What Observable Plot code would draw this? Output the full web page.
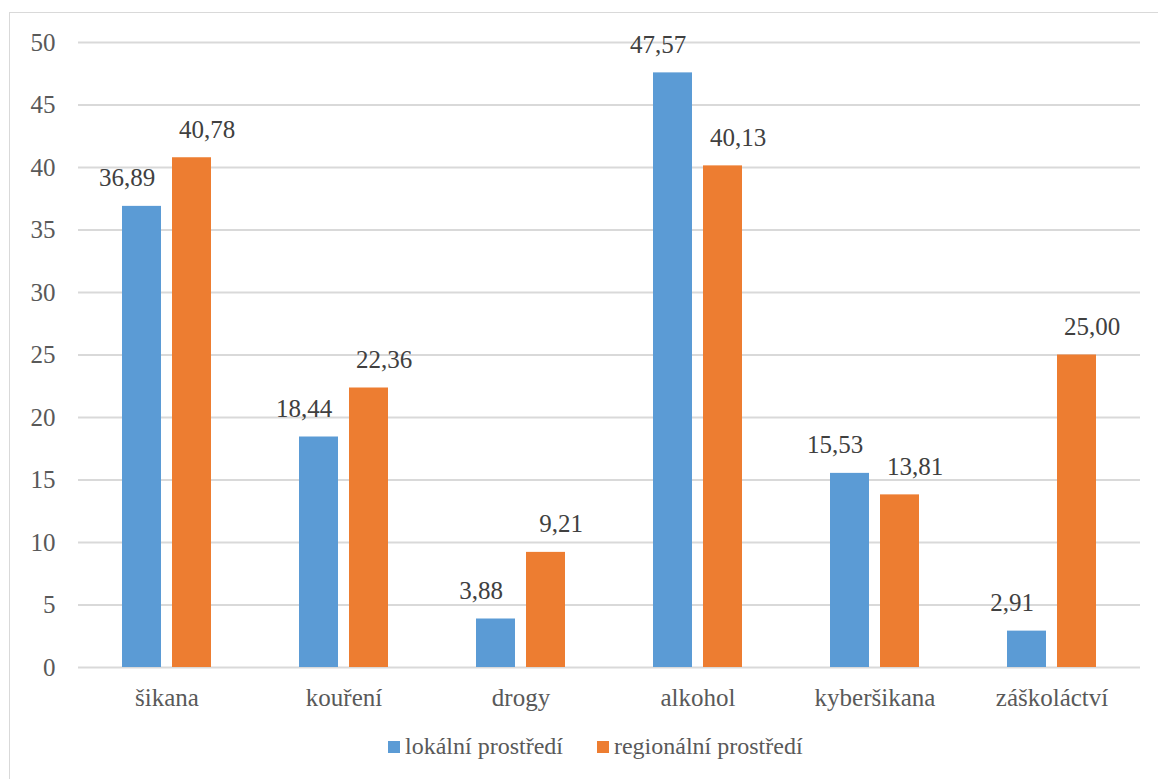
<!DOCTYPE html>
<html>
<head>
<meta charset="utf-8">
<script src="https://cdn.jsdelivr.net/npm/d3@7"></script>
<script src="https://cdn.jsdelivr.net/npm/@observablehq/plot@0.6"></script>
<style>
  html, body { margin: 0; padding: 0; background: #fff; }
  body { width: 1158px; height: 779px; position: relative; overflow: hidden; }
  #frame { position: absolute; left: 9px; top: 12px; width: 1200px; height: 800px; border: 1px solid #d9d9d9; box-sizing: border-box; }
  #chart { position: absolute; left: 0; top: 0; }
  #legend { position: absolute; left: 388px; top: 733px; display: flex; align-items: center; font-size: 24px; color: #595959; white-space: nowrap; }
  #legend .sw { width: 12px; height: 12px; display: inline-block; margin-right: 5px; }
  #legend .item { display: flex; align-items: center; margin-right: 34px; }
</style>
</head>
<body>
<div id="frame"></div>
<div id="chart"></div>
<div id="legend" style="font-family: 'Liberation Serif', serif"></div>
<script>
const categories = ["šikana", "kouření", "drogy", "alkohol", "kyberšikana", "záškoláctví"];
const seriesNames = ["lokální prostředí", "regionální prostředí"];
const lokalni = [36.89, 18.44, 3.88, 47.57, 15.53, 2.91];
const regionalni = [40.78, 22.36, 9.21, 40.13, 13.81, 25.00];
const yTicks = [0, 5, 10, 15, 20, 25, 30, 35, 40, 45, 50];
const colors = ["#5B9BD5", "#ED7D31"];

const data = [];
categories.forEach((c, i) => {
  data.push({category: c, series: seriesNames[0], value: lokalni[i]});
  data.push({category: c, series: seriesNames[1], value: regionalni[i]});
});
const fmt = v => d3.format(".2f")(v).replace(".", ",");
const serif = "'Liberation Serif', serif";

const chart = Plot.plot({
  width: 1158,
  height: 715,
  marginLeft: 76,
  marginRight: 16,
  marginTop: 42,
  marginBottom: 48,
  style: {fontSize: "25px", color: "#595959", background: "transparent"},
  fx: {domain: categories, padding: 0, label: null},
  x: {domain: seriesNames, paddingInner: 0.216, paddingOuter: 0.85, axis: null},
  y: {domain: [0, 50], ticks: yTicks, label: null},
  color: {domain: seriesNames, range: colors},
  marks: [
    Plot.ruleY(yTicks, {stroke: "#d9d9d9", strokeWidth: 2}),
    Plot.axisY({ticks: yTicks, tickSize: 0, tickPadding: 23, label: null, fontSize: 25, fill: "#595959"}),
    Plot.axisFx({anchor: "bottom", tickSize: 0, tickPadding: 21, label: null, fontSize: 25, fill: "#595959"}),
    Plot.barY(data, {fx: "category", x: "series", y: "value", fill: "series"}),
    Plot.text(data.filter(d => d.series === seriesNames[0]), {fx: "category", x: "series", y: "value", text: d => fmt(d.value), dx: -15, dy: -20, lineAnchor: "bottom", fontSize: 25, fill: "#404040"}),
    Plot.text(data.filter(d => d.series === seriesNames[1]), {fx: "category", x: "series", y: "value", text: d => fmt(d.value), dx: 15, dy: -20, lineAnchor: "bottom", fontSize: 25, fill: "#404040"})
  ]
});
chart.style.setProperty("font-family", serif, "important");
chart.querySelectorAll("text, g").forEach(el => el.style.setProperty("font-family", serif, "important"));
document.getElementById("chart").appendChild(chart);

const legend = document.getElementById("legend");
legend.style.setProperty("font-family", serif, "important");
seriesNames.forEach((s, i) => {
  const item = document.createElement("span");
  item.className = "item";
  item.style.setProperty("font-family", serif, "important");
  const sw = document.createElement("span");
  sw.className = "sw";
  sw.style.background = colors[i];
  item.appendChild(sw);
  item.appendChild(document.createTextNode(s));
  legend.appendChild(item);
});
</script>
</body>
</html>
